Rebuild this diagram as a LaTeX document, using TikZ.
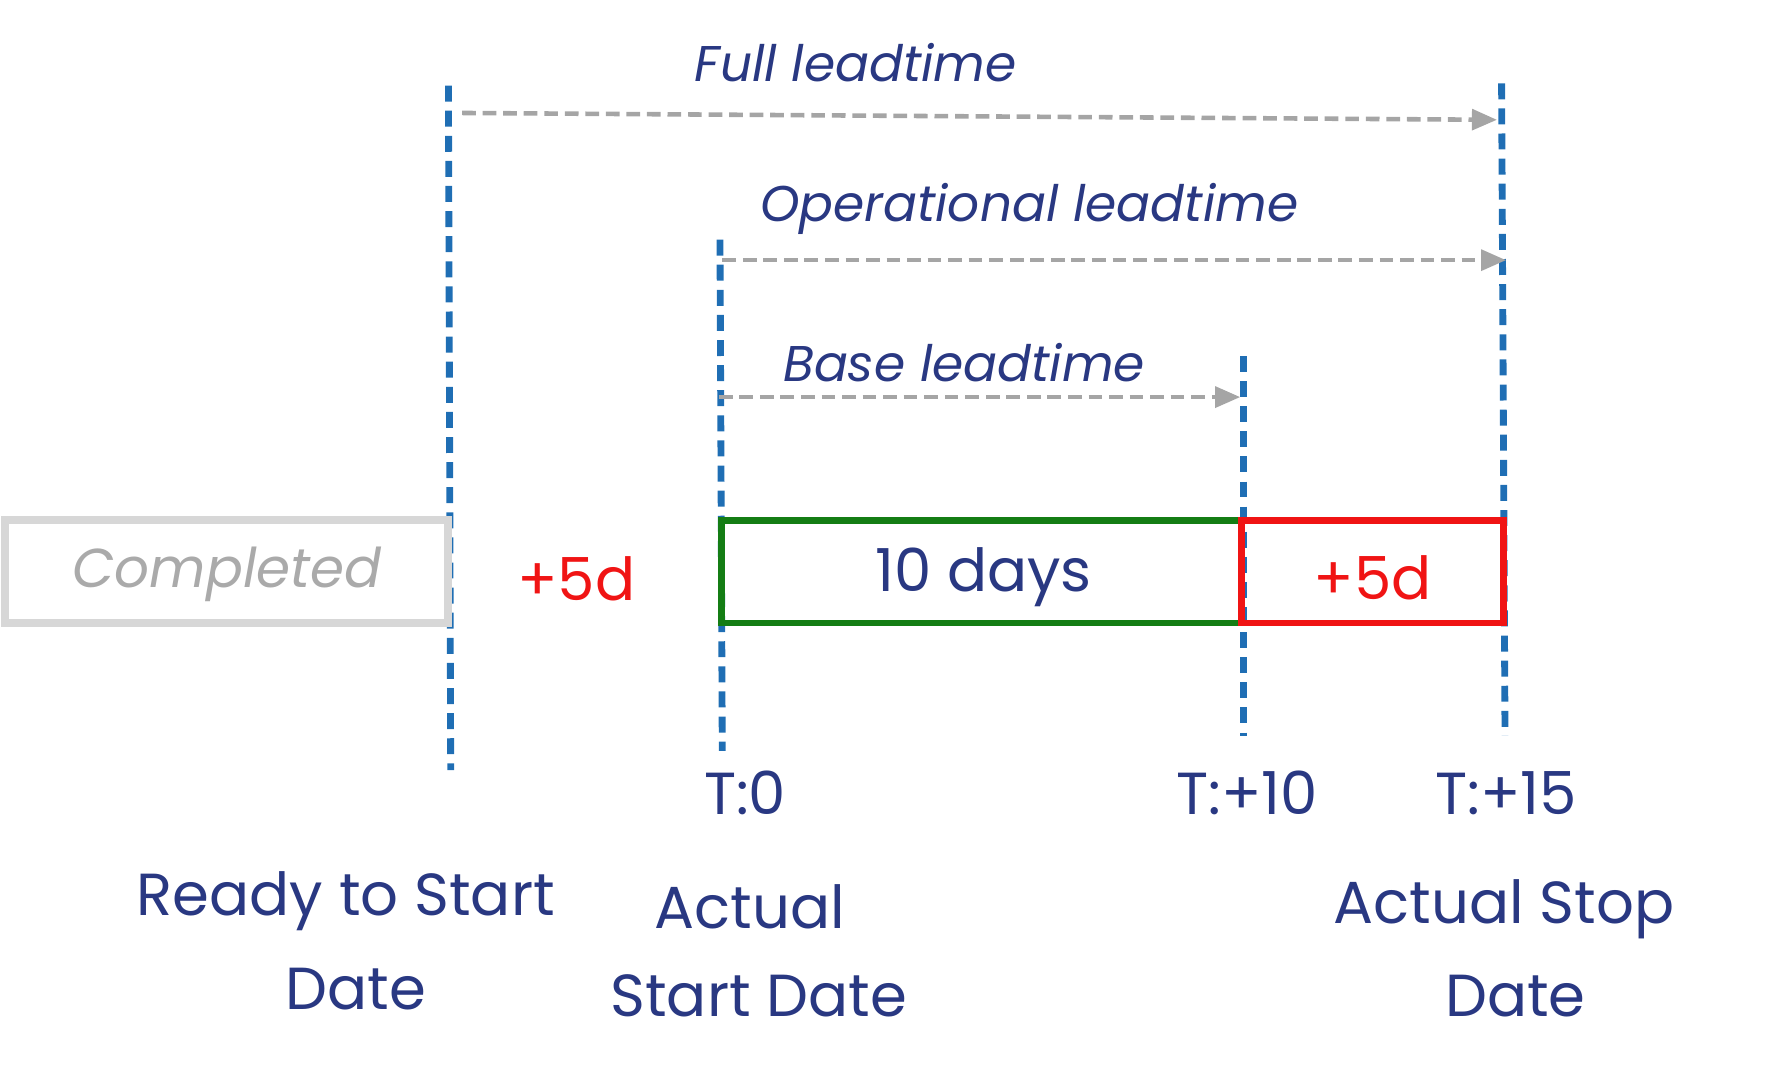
\documentclass[tikz,border=0pt]{standalone}
\usepackage{fontspec}
\setmainfont{Poppins}
\usetikzlibrary{arrows.meta}
\definecolor{navy}{RGB}{41,56,130}
\definecolor{vblue}{RGB}{31,110,180}
\definecolor{agray}{RGB}{165,165,165}
\definecolor{bgray}{RGB}{215,215,215}
\definecolor{tgray}{RGB}{170,170,170}
\definecolor{gbox}{RGB}{20,125,20}
\definecolor{rbox}{RGB}{240,20,20}
\begin{document}
\begin{tikzpicture}[x=1pt,y=-1pt,
  vline/.style={vblue,line width=6pt,dash pattern=on 14pt off 8pt},
  garrow/.style={agray,line width=4pt,dash pattern=on 12pt off 6pt,-{Triangle[length=22pt,width=18pt]}},
  lt/.style={navy,font=\fontsize{44}{50}\selectfont\itshape},
  big/.style={font=\fontsize{52}{62}\selectfont,align=center},
  lbl/.style={text=navy,big}]
\useasboundingbox (0,0) rectangle (1560,942);
% vertical lines
\coordinate (a1) at (393,75); \coordinate (a2) at (395,675);
\coordinate (b1) at (631,210); \coordinate (b2) at (633,658);
\coordinate (c1) at (1090,312); \coordinate (c2) at (1090,645);
\coordinate (d1) at (1316,73); \coordinate (d2) at (1319,645);
\draw[vline] (a1)--(a2);
\draw[vline] (b1)--(b2);
\draw[vline] (c1)--(c2);
\draw[vline] (d1)--(d2);
% arrows
\coordinate (f1) at (405,99); \coordinate (f2) at (1312,105);
\coordinate (o1) at (633,228); \coordinate (o2) at (1320,228);
\coordinate (s1) at (630,348); \coordinate (s2) at (1087,348);
\draw[garrow] (f1)--(f2);
\draw[garrow] (o1)--(o2);
\draw[garrow] (s1)--(s2);
\node[lt] (fl) at (750,55) {Full leadtime};
\node[lt] (ol) at (902,183) {Operational leadtime};
\node[lt] (bl) at (845,318) {Base leadtime};
% boxes
\draw[bgray,line width=7pt] (4,456) rectangle (393,546);
\node[text=tgray,font=\fontsize{48}{58}\selectfont\itshape] (comp) at (199,503) {Completed};
\node[text=rbox,big] (p1) at (505,507) {+5d};
\draw[gbox,line width=6pt] (632,456) rectangle (1088,546);
\draw[rbox,line width=6pt] (1088,456) rectangle (1318,546);
\node[lbl] (ten) at (862,506) {10 days};
\node[text=rbox,big] (p2) at (1203,506) {+5d};
% T labels
\node[lbl] (t0) at (653,695) {T:0};
\node[lbl] (t10) at (1093,695) {T:+10};
\node[lbl] (t15) at (1320,695) {T:+15};
% bottom labels
\node[lbl] (r1) at (303,790) {Ready to Start};
\node[lbl] (r2) at (312,867) {Date};
\node[lbl] (s3) at (657,795) {Actual};
\node[lbl] (s4) at (665,873) {Start Date};
\node[lbl] (e1) at (1318,797) {Actual Stop};
\node[lbl] (e2) at (1328,873) {Date};
\end{tikzpicture}
\end{document}
